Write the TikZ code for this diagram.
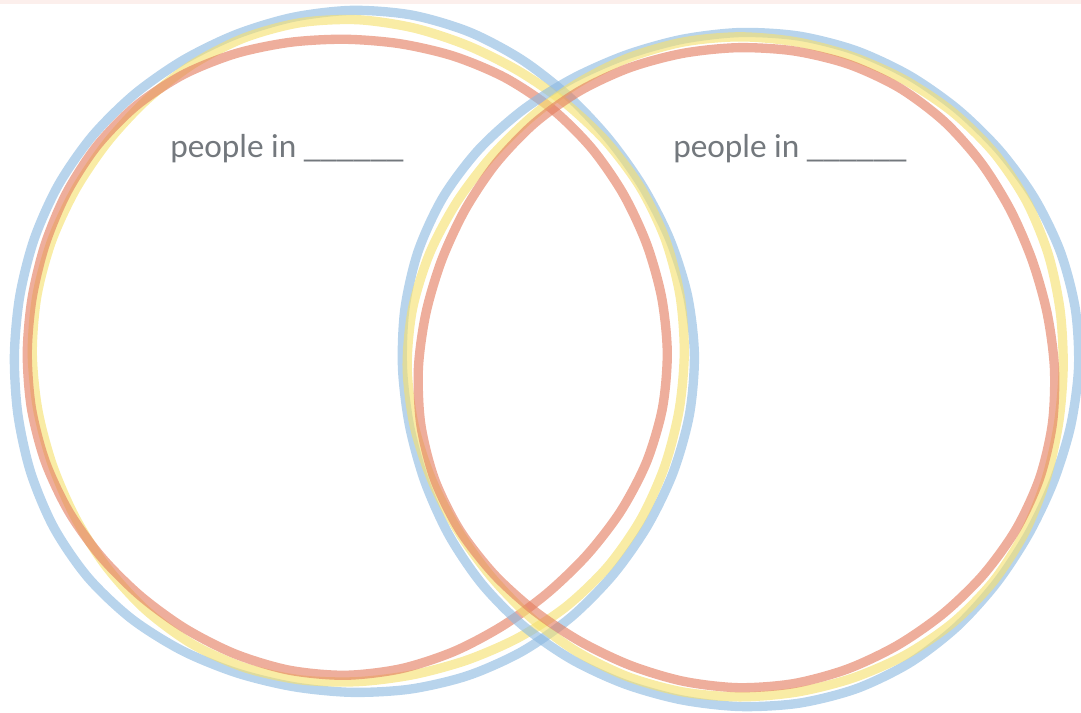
\documentclass[tikz,border=0pt]{standalone}
\usepackage{fontspec}
\setmainfont{Carlito}
\usepackage{tikz}

\definecolor{ringblue}{RGB}{140,185,225}
\definecolor{ringyellow}{RGB}{245,225,110}
\definecolor{ringred}{RGB}{228,125,95}
\definecolor{labelgray}{RGB}{115,120,125}

\tikzset{
  ring/.style={line width=7pt, opacity=0.62, line join=round},
  label text/.style={text=labelgray, font=\fontsize{25}{30}\selectfont, inner sep=0pt, anchor=base west}
}

% wobbly hand-drawn ring: centre x, centre y, radius x, radius y, phase
\newcommand{\wobblering}[6]{%
  \draw[ring, draw=#6] plot[smooth cycle, domain=0:350, samples=36, variable=\t]
    ({#1 + (#3 + 3*sin(3*\t+#5) + 2*cos(5*\t+2*#5))*cos(\t)},
     {#2 + (#4 + 3*sin(3*\t+#5) + 2*cos(5*\t+2*#5))*sin(\t)});
}

\begin{document}
\begin{tikzpicture}[x=0.75pt, y=-0.75pt]

\useasboundingbox (0,0) rectangle (1081,713);

% faint trace along the top edge
\fill[ringred!12] (0,0) rectangle (1081,4);

% left rings
\wobblering{352}{355}{340}{341}{10}{ringblue}
\wobblering{357}{353}{326}{331}{70}{ringyellow}
\wobblering{345}{353}{320}{318}{140}{ringred}

% right rings
\wobblering{740}{368}{338}{337}{200}{ringblue}
\wobblering{740}{367}{328}{330}{260}{ringyellow}
\wobblering{738}{368}{318}{320}{320}{ringred}

% labels
\node[label text] (leftlabel) at (170,157) {people in \_\_\_\_\_\_};
\node[label text] (rightlabel) at (673,157) {people in \_\_\_\_\_\_};

\end{tikzpicture}
\end{document}
